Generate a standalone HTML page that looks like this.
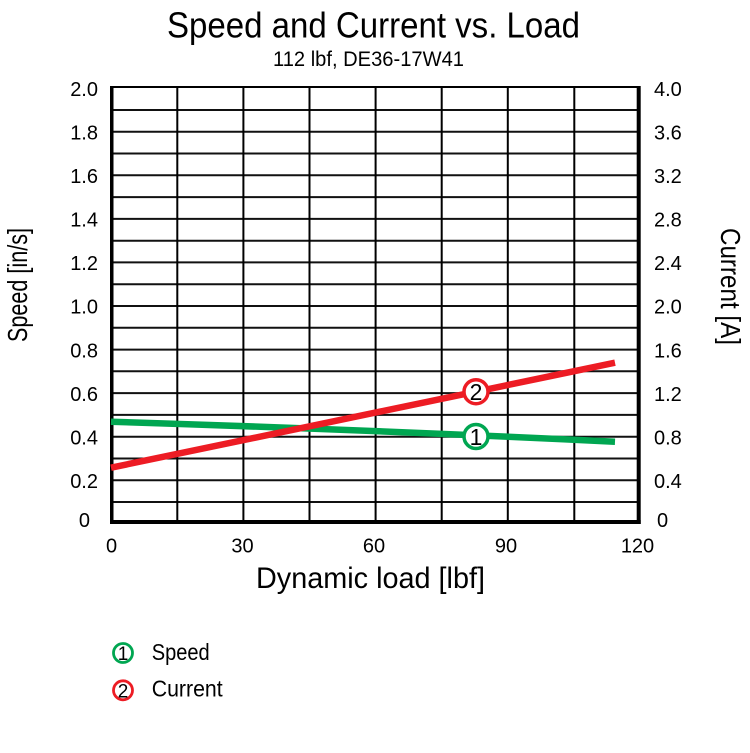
<!DOCTYPE html>
<html>
<head>
<meta charset="utf-8">
<style>
  html, body { margin: 0; padding: 0; background: #ffffff; }
  svg { display: block; }
  .cond { font-family: "Liberation Sans Narrow", "Liberation Sans", sans-serif; }
  .tick { font-family: "Liberation Sans", sans-serif; font-size: 20px; fill: #000; }
</style>
</head>
<body>
<svg width="750" height="753" viewBox="0 0 750 753" xmlns="http://www.w3.org/2000/svg">
  <rect x="0" y="0" width="750" height="753" fill="#fff"/>

  <!-- Title -->
  <text class="cond" x="167" y="37.5" font-size="36" textLength="413" lengthAdjust="spacingAndGlyphs" fill="#000">Speed and Current vs. Load</text>
  <text class="cond" x="273" y="66" font-size="21" textLength="191" lengthAdjust="spacingAndGlyphs" fill="#000">112 lbf, DE36-17W41</text>

  <!-- horizontal grid -->
  <g stroke="#111" stroke-width="2">
    <line x1="111" y1="110.0" x2="638" y2="110.0"/>
    <line x1="111" y1="131.8" x2="638" y2="131.8"/>
    <line x1="111" y1="153.5" x2="638" y2="153.5"/>
    <line x1="111" y1="175.3" x2="638" y2="175.3"/>
    <line x1="111" y1="197.1" x2="638" y2="197.1"/>
    <line x1="111" y1="218.9" x2="638" y2="218.9"/>
    <line x1="111" y1="240.7" x2="638" y2="240.7"/>
    <line x1="111" y1="262.4" x2="638" y2="262.4"/>
    <line x1="111" y1="284.2" x2="638" y2="284.2"/>
    <line x1="111" y1="306.0" x2="638" y2="306.0"/>
    <line x1="111" y1="327.8" x2="638" y2="327.8"/>
    <line x1="111" y1="349.6" x2="638" y2="349.6"/>
    <line x1="111" y1="371.3" x2="638" y2="371.3"/>
    <line x1="111" y1="393.1" x2="638" y2="393.1"/>
    <line x1="111" y1="414.9" x2="638" y2="414.9"/>
    <line x1="111" y1="436.7" x2="638" y2="436.7"/>
    <line x1="111" y1="458.5" x2="638" y2="458.5"/>
    <line x1="111" y1="480.2" x2="638" y2="480.2"/>
    <line x1="111" y1="502.0" x2="638" y2="502.0"/>
  </g>
  <!-- vertical grid -->
  <g stroke="#000" stroke-width="2">
    <line x1="177.3" y1="87" x2="177.3" y2="521"/>
    <line x1="243.4" y1="87" x2="243.4" y2="521"/>
    <line x1="309.5" y1="87" x2="309.5" y2="521"/>
    <line x1="375.6" y1="87" x2="375.6" y2="521"/>
    <line x1="441.7" y1="87" x2="441.7" y2="521"/>
    <line x1="507.8" y1="87" x2="507.8" y2="521"/>
    <line x1="574.3" y1="87" x2="574.3" y2="521"/>
  </g>
  <!-- borders -->
  <rect x="110" y="86" width="530" height="2" fill="#000"/>
  <rect x="110" y="86" width="3.5" height="438" fill="#000"/>
  <rect x="636.7" y="86" width="4" height="438" fill="#000"/>
  <rect x="110" y="520" width="530.7" height="4" fill="#000"/>

  <!-- left ticks -->
  <g class="tick" text-anchor="end">
    <text x="98" y="95.8">2.0</text>
    <text x="98" y="139.3">1.8</text>
    <text x="98" y="182.8">1.6</text>
    <text x="98" y="226.3">1.4</text>
    <text x="98" y="269.8">1.2</text>
    <text x="98" y="313.3">1.0</text>
    <text x="98" y="357.3">0.8</text>
    <text x="98" y="400.8">0.6</text>
    <text x="98" y="444.3">0.4</text>
    <text x="98" y="487.8">0.2</text>
    <text x="90" y="527">0</text>
  </g>
  <!-- right ticks -->
  <g class="tick" text-anchor="start">
    <text x="654" y="95.8">4.0</text>
    <text x="654" y="139.3">3.6</text>
    <text x="654" y="182.8">3.2</text>
    <text x="654" y="226.3">2.8</text>
    <text x="654" y="269.8">2.4</text>
    <text x="654" y="313.3">2.0</text>
    <text x="654" y="357.3">1.6</text>
    <text x="654" y="400.8">1.2</text>
    <text x="654" y="444.3">0.8</text>
    <text x="654" y="487.8">0.4</text>
    <text x="657" y="527">0</text>
  </g>
  <!-- bottom ticks -->
  <g class="tick" text-anchor="middle">
    <text x="111.5" y="552.5">0</text>
    <text x="242.5" y="552.5">30</text>
    <text x="374" y="552.5">60</text>
    <text x="506" y="552.5">90</text>
    <text x="637.5" y="552.5">120</text>
  </g>

  <!-- axis labels -->
  <text class="cond" x="256" y="588" font-size="30" textLength="229" lengthAdjust="spacingAndGlyphs" fill="#000">Dynamic load [lbf]</text>
  <text class="cond" font-size="28" textLength="114" lengthAdjust="spacingAndGlyphs" fill="#000" transform="translate(27,342) rotate(-90)">Speed [in/s]</text>
  <text class="cond" font-size="28" textLength="117" lengthAdjust="spacingAndGlyphs" fill="#000" transform="translate(721,228) rotate(90)">Current [A]</text>

  <!-- series -->
  <path d="M111,421.7 Q360,429.5 615,441.7" fill="none" stroke="#00a651" stroke-width="6.5"/>
  <line x1="111" y1="467.7" x2="615" y2="362.7" stroke="#ed1c24" stroke-width="6.5"/>

  <!-- markers -->
  <circle cx="476" cy="391.7" r="12" fill="#fff" stroke="#ed1c24" stroke-width="3.5"/>
  <text x="476" y="400" font-family="Liberation Sans, sans-serif" font-size="23" text-anchor="middle" fill="#000">2</text>
  <circle cx="476" cy="436.5" r="12" fill="#fff" stroke="#00a651" stroke-width="3.5"/>
  <text x="476" y="444.8" font-family="Liberation Sans, sans-serif" font-size="23" text-anchor="middle" fill="#000">1</text>

  <!-- legend -->
  <circle cx="123" cy="653" r="9.5" fill="#fff" stroke="#00a651" stroke-width="2.8"/>
  <text x="123" y="660" font-family="Liberation Sans, sans-serif" font-size="19" text-anchor="middle" fill="#000">1</text>
  <text class="cond" x="151.7" y="660" font-size="23" textLength="58" lengthAdjust="spacingAndGlyphs" fill="#000">Speed</text>
  <circle cx="123" cy="690.3" r="9.5" fill="#fff" stroke="#ed1c24" stroke-width="2.8"/>
  <text x="123" y="697.3" font-family="Liberation Sans, sans-serif" font-size="19" text-anchor="middle" fill="#000">2</text>
  <text class="cond" x="151.7" y="696.7" font-size="23" textLength="71" lengthAdjust="spacingAndGlyphs" fill="#000">Current</text>
</svg>
</body>
</html>
